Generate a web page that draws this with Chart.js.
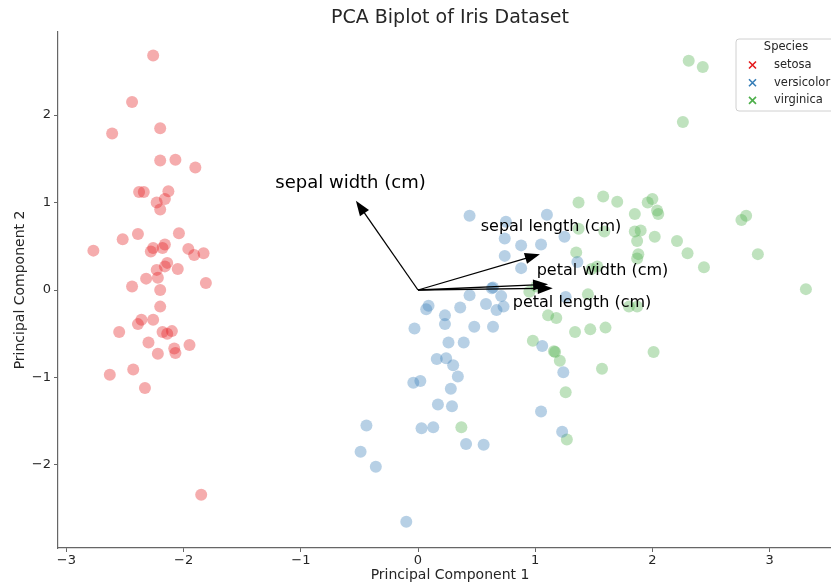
<!DOCTYPE html>
<html>
<head>
<meta charset="utf-8">
<script src="https://cdn.jsdelivr.net/npm/chart.js@4.4.1/dist/chart.umd.min.js"></script>
<style>
html,body{margin:0;padding:0;background:#fff;overflow:hidden}
#wrap{width:900px;height:584px}
</style>
</head>
<body>
<div id="wrap"><canvas id="biplot" width="900" height="584"></canvas></div>
<script>
// --- datos ---
var setosa=[[-2.26,2.68],[-2.44,2.15],[-2.20,1.85],[-2.61,1.79],[-2.20,1.48],[-2.07,1.49],[-1.90,1.40],[-2.38,1.12],[-2.34,1.12],[-2.13,1.13],
  [-2.16,1.04],[-2.23,1.00],[-2.20,0.92],[-2.52,0.58],[-2.39,0.64],[-2.04,0.65],[-2.77,0.45],[-2.28,0.44],[-2.26,0.48],[-2.18,0.48],
  [-2.16,0.52],[-1.96,0.47],[-1.91,0.40],[-1.83,0.42],[-2.14,0.31],[-2.16,0.27],[-2.23,0.23],[-2.05,0.24],[-2.32,0.13],[-2.22,0.14],
  [-2.44,0.04],[-2.20,0.00],[-1.81,0.08],[-2.20,-0.19],[-2.36,-0.34],[-2.39,-0.39],[-2.26,-0.34],[-2.55,-0.48],[-2.18,-0.48],[-2.14,-0.50],
  [-2.10,-0.47],[-2.30,-0.60],[-1.95,-0.63],[-2.08,-0.67],[-2.07,-0.72],[-2.22,-0.73],[-2.63,-0.97],[-2.43,-0.91],[-2.33,-1.12],[-1.85,-2.34]];
var versicolor=[[0.44,0.85],[1.10,0.86],[0.74,0.59],[0.88,0.51],[1.05,0.52],[0.74,0.39],[0.88,0.25],[0.75,0.78],[1.25,0.61],[1.36,0.32],
  [0.44,-0.06],[0.63,0.02],[0.71,-0.07],[0.09,-0.18],[0.07,-0.22],[0.23,-0.29],[0.36,-0.20],[0.58,-0.16],[0.67,-0.23],[0.73,-0.19],
  [-0.03,-0.44],[0.23,-0.39],[0.48,-0.42],[0.64,-0.42],[0.26,-0.60],[0.39,-0.60],[1.06,-0.64],[0.16,-0.79],[0.24,-0.78],[0.30,-0.86],
  [0.34,-0.99],[1.24,-0.94],[-0.04,-1.06],[0.02,-1.04],[0.28,-1.13],[0.17,-1.31],[0.29,-1.33],[1.05,-1.39],[-0.44,-1.55],[0.03,-1.58],
  [0.13,-1.57],[1.23,-1.62],[0.41,-1.76],[0.56,-1.77],[-0.49,-1.85],[-0.36,-2.02],[-0.10,-2.65],[1.26,-0.08],[0.64,0.03]];
var virginica=[[2.31,2.62],[2.43,2.55],[2.26,1.92],[1.37,1.00],[1.58,1.07],[1.70,1.01],[1.96,1.00],[2.00,1.04],[1.85,0.87],[2.04,0.91],
  [2.05,0.87],[2.76,0.80],[2.80,0.85],[1.37,0.70],[1.59,0.67],[1.85,0.67],[1.90,0.68],[2.02,0.61],[2.21,0.56],[1.87,0.56],
  [1.35,0.43],[1.88,0.41],[1.87,0.36],[2.30,0.42],[2.90,0.41],[2.44,0.26],[1.48,0.24],[1.53,0.27],[3.31,0.01],[1.45,-0.05],
  [1.01,0.04],[0.95,-0.02],[1.11,-0.29],[1.18,-0.32],[1.34,-0.48],[1.47,-0.45],[1.60,-0.43],[0.98,-0.58],[1.16,-0.70],[1.17,-0.71],
  [1.21,-0.81],[2.01,-0.71],[1.57,-0.90],[1.26,-1.17],[1.27,-1.71],[1.80,-0.19],[1.87,-0.19],[0.37,-1.57]];

var especies=['setosa','versicolor','virginica'];
var coloresEspecie=['#e41a1c','#377eb8','#4daf4a'];
var variables=['sepal length (cm)','sepal width (cm)','petal length (cm)','petal width (cm)'];
var cargas=[[1.04,0.41],[-0.53,1.02],[1.15,0.02],[1.11,0.065]];
var posEtiquetas=[[1.135,0.72],[-0.576,1.223],[1.40,-0.149],[1.574,0.217]];
var ticksX=[-3,-2,-1,0,1,2,3];
var ticksY=[-2,-1,0,1,2];

function alfa(hex,a){
  var n=parseInt(hex.slice(1),16);
  return 'rgba('+(n>>16)+','+((n>>8)&255)+','+(n&255)+','+a+')';
}
function fmtTick(v){return v<0?'\u2212'+Math.abs(v):String(v);}
function aPuntos(arr){return arr.map(function(p){return {x:p[0],y:p[1]};});}

var FONT='DejaVu Sans';

var flechasPlugin={
  id:'flechas',
  afterDatasetsDraw:function(chart){
    var ctx=chart.ctx,sx=chart.scales.x,sy=chart.scales.y;
    var x0=sx.getPixelForValue(0),y0=sy.getPixelForValue(0);
    ctx.save();
    ctx.strokeStyle='#000';ctx.fillStyle='#000';ctx.lineWidth=1.3;
    cargas.forEach(function(c){
      var x1=sx.getPixelForValue(c[0]),y1=sy.getPixelForValue(c[1]);
      var ang=Math.atan2(y1-y0,x1-x0),hl=15,hw=5.5;
      var bx=x1-hl*Math.cos(ang),by=y1-hl*Math.sin(ang);
      ctx.beginPath();ctx.moveTo(x0,y0);ctx.lineTo(bx+2*Math.cos(ang),by+2*Math.sin(ang));ctx.stroke();
      ctx.beginPath();ctx.moveTo(x1,y1);
      ctx.lineTo(bx+hw*Math.sin(ang),by-hw*Math.cos(ang));
      ctx.lineTo(bx-hw*Math.sin(ang),by+hw*Math.cos(ang));
      ctx.closePath();ctx.fill();
    });
    ctx.textAlign='center';ctx.textBaseline='middle';
    variables.forEach(function(v,i){
      ctx.font=(i===1?'18px ':'16px ')+FONT;
      ctx.fillText(v,sx.getPixelForValue(posEtiquetas[i][0]),sy.getPixelForValue(posEtiquetas[i][1]));
    });
    ctx.restore();
  },
  afterDraw:function(chart){
    var ctx=chart.ctx,a=chart.chartArea;
    ctx.save();
    // titulo
    ctx.fillStyle='#262626';ctx.font='19px '+FONT;ctx.textAlign='center';ctx.textBaseline='middle';
    ctx.fillText('PCA Biplot of Iris Dataset',(a.left+a.right)/2,18);
    // leyenda
    var lx=736,ly=39,lw=104,lh=72;
    ctx.beginPath();
    ctx.moveTo(lx+3,ly);ctx.lineTo(lx+lw-3,ly);ctx.quadraticCurveTo(lx+lw,ly,lx+lw,ly+3);
    ctx.lineTo(lx+lw,ly+lh-3);ctx.quadraticCurveTo(lx+lw,ly+lh,lx+lw-3,ly+lh);
    ctx.lineTo(lx+3,ly+lh);ctx.quadraticCurveTo(lx,ly+lh,lx,ly+lh-3);
    ctx.lineTo(lx,ly+3);ctx.quadraticCurveTo(lx,ly,lx+3,ly);ctx.closePath();
    ctx.fillStyle='rgba(255,255,255,0.85)';ctx.fill();
    ctx.strokeStyle='#d0d0d0';ctx.lineWidth=1;ctx.stroke();
    ctx.fillStyle='#262626';ctx.font='11.5px '+FONT;ctx.textAlign='center';
    ctx.fillText('Species',786,47.5);
    ctx.textAlign='left';
    especies.forEach(function(e,i){
      var yy=65+i*17.7,cx=752.5;
      ctx.strokeStyle=coloresEspecie[i];ctx.lineWidth=1.6;
      ctx.beginPath();ctx.moveTo(cx-3.5,yy-3.5);ctx.lineTo(cx+3.5,yy+3.5);ctx.moveTo(cx+3.5,yy-3.5);ctx.lineTo(cx-3.5,yy+3.5);ctx.stroke();
      ctx.fillStyle='#262626';ctx.fillText(e,774,yy);
    });
    ctx.restore();
  }
};

new Chart(document.getElementById('biplot'),{
  type:'scatter',
  data:{
    datasets:[
      {label:'setosa',data:aPuntos(setosa),backgroundColor:alfa(coloresEspecie[0],0.36),borderWidth:0,pointRadius:6},
      {label:'versicolor',data:aPuntos(versicolor),backgroundColor:alfa(coloresEspecie[1],0.36),borderWidth:0,pointRadius:6},
      {label:'virginica',data:aPuntos(virginica),backgroundColor:alfa(coloresEspecie[2],0.36),borderWidth:0,pointRadius:6}
    ]
  },
  options:{
    responsive:false,animation:false,devicePixelRatio:1,
    layout:{padding:{left:0,right:58,top:32,bottom:0}},
    plugins:{legend:{display:false},tooltip:{enabled:false},title:{display:false}},
    scales:{
      x:{type:'linear',min:-3.072,max:3.618,
        afterBuildTicks:function(s){s.ticks=ticksX.map(function(v){return {value:v};});},
        afterFit:function(s){s.height=36;},
        grid:{drawOnChartArea:false,drawTicks:true,tickLength:4,color:'#666'},
        border:{display:true,color:'#666',width:1.2},
        ticks:{color:'#262626',font:{family:FONT,size:13},padding:1,maxRotation:0,callback:fmtTick},
        title:{display:true,text:'Principal Component 1',color:'#262626',font:{family:FONT,size:14},padding:{top:0,bottom:0}}
      },
      y:{type:'linear',min:-2.949,max:2.949,
        afterBuildTicks:function(s){s.ticks=ticksY.map(function(v){return {value:v};});},
        afterFit:function(s){s.width=58;},
        grid:{drawOnChartArea:false,drawTicks:true,tickLength:4,color:'#666'},
        border:{display:true,color:'#666',width:1.2},
        ticks:{color:'#262626',font:{family:FONT,size:13},padding:3,callback:fmtTick},
        title:{display:true,text:'Principal Component 2',color:'#262626',font:{family:FONT,size:14},padding:{top:12,bottom:0}}
      }
    }
  },
  plugins:[flechasPlugin]
});
</script>
</body>
</html>
